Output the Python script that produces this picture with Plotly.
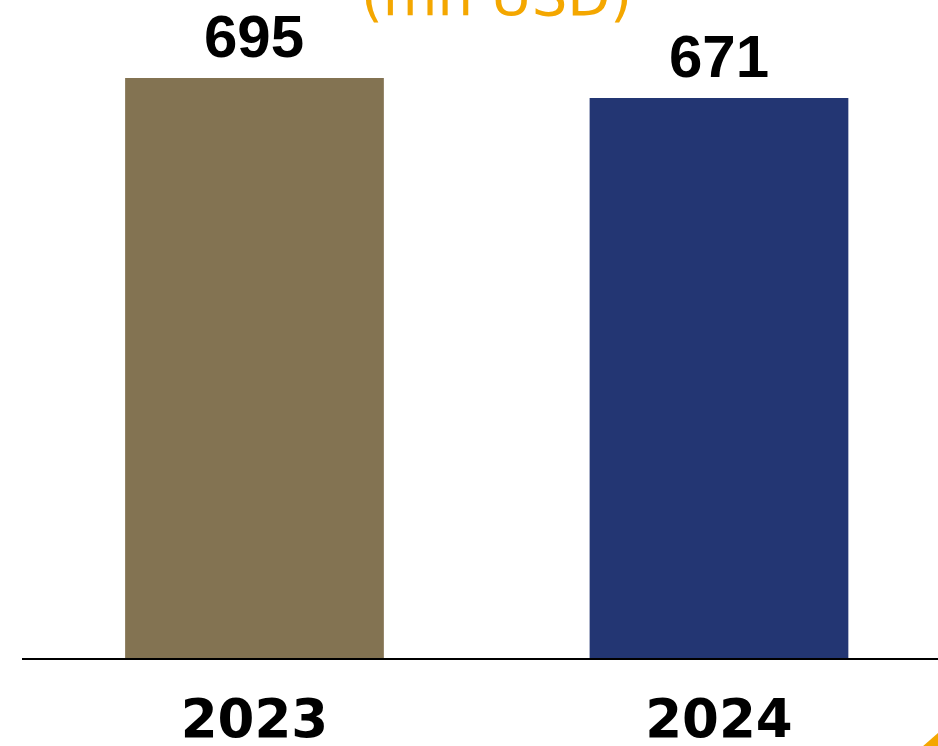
import plotly.graph_objects as go

years = ["2023", "2024"]
values = [695, 671]
colors = ["#837352", "#233673"]
title_text = "(mn USD)"

W, H = 938, 746
ML, MR, MT, MB = 22, 0, 0, 88
plot_h = H - MT - MB

fig = go.Figure()
fig.add_trace(go.Bar(
    x=years, y=values, marker=dict(color=colors, line=dict(width=0)),
    width=0.557, hoverinfo="skip"
))

for i, v in enumerate(values):
    fig.add_annotation(
        x=i, y=v, xref="x", yref="y", text=str(v), showarrow=False,
        yanchor="bottom", yshift=6,
        font=dict(family="Liberation Sans", size=60, color="#000000", weight="bold"),
    )

fig.add_annotation(
    x=(496 - ML) / (W - ML - MR), y=1, xref="paper", yref="paper",
    text=title_text, showarrow=False, xanchor="center", yanchor="bottom", yshift=-30,
    font=dict(family="DejaVu Sans", size=56, color="#F4A700"),
)

# orange corner decoration
pw = W - ML - MR
def px(x):
    return (x - ML) / pw
def py(y):
    return (plot_h - (y - MT)) / plot_h
fig.add_shape(
    type="path", xref="paper", yref="paper",
    path=f"M {px(922)} {py(747)} L {px(939)} {py(747)} L {px(939)} {py(732)} Z",
    fillcolor="#F4A700", line=dict(width=0), layer="above",
)

fig.update_layout(
    width=W, height=H,
    margin=dict(l=ML, r=MR, t=MT, b=MB, pad=0, autoexpand=False),
    paper_bgcolor="white", plot_bgcolor="white",
    showlegend=False,
    xaxis=dict(
        type="category", range=[-0.5005, 1.4715], automargin=False,
        showline=True, linecolor="#000000", linewidth=2,
        showgrid=False, zeroline=False, ticks="",
        ticklabelstandoff=13,
        tickfont=dict(family="DejaVu Sans", size=53, color="#000000", weight="bold"),
        fixedrange=True,
    ),
    yaxis=dict(
        range=[0, plot_h / 0.8345], visible=False, showgrid=False, zeroline=False,
        automargin=False, fixedrange=True,
    ),
)

fig.write_html("out.html")
